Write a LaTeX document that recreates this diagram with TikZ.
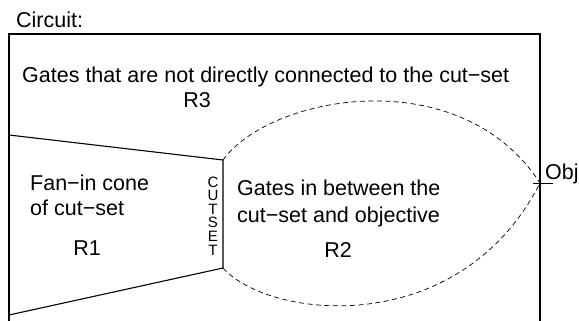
\documentclass[tikz,border=0pt]{standalone}
\usepackage{fontspec}
\setmainfont{Liberation Sans}
\begin{document}
\begin{tikzpicture}[x=1pt,y=1pt,
  lbl/.style={anchor=base west,inner sep=0pt,font=\fontsize{21.5}{25}\selectfont},
  clbl/.style={anchor=base,inner sep=0pt,font=\fontsize{21.5}{25}\selectfont},
  cutl/.style={anchor=base,inner sep=0pt,text height=10pt,text depth=0pt,font=\fontsize{15}{15}\selectfont},
  frame/.style={line width=1.6pt},
  region/.style={line width=1.1pt},
  lens/.style={dashed,line width=0.7pt,dash pattern=on 5pt off 3.5pt}]
\useasboundingbox (0,0) rectangle (579,-321);
\begin{scope}
\clip (0,0) rectangle (579,-321);
% frame (open at the bottom)
\coordinate (fbl) at (9,-330);
\coordinate (ftl) at (9,-34);
\coordinate (ftr) at (540,-34);
\coordinate (fbr) at (540,-330);
\draw[frame] (fbl) -- (ftl) -- (ftr) -- (fbr);
% fan-in cone
\coordinate (r1tl) at (9,-135);
\coordinate (cut1) at (223,-160);
\coordinate (cut2) at (223,-268);
\coordinate (r1bl) at (9,-315);
\draw[region] (r1tl) -- (cut1) -- (cut2) -- (r1bl);
% objective
\coordinate (obj) at (540,-183);
\coordinate (tickl) at (533,-183);
\coordinate (tickr) at (553,-183);
\draw[line width=0.8pt] (tickl) -- (tickr);
% lens R2
\draw[lens] (cut1) .. controls (270,-95) and (460,-60) .. (obj);
\draw[lens] (cut2) .. controls (270,-320) and (460,-340) .. (obj);
\end{scope}
% labels
\node[lbl] (circ) at (16,-28) {Circuit:};
\node[lbl] (g3) at (22,-83) {Gates that are not directly connected to the cut−set};
\node[clbl] (r3) at (197,-107) {R3};
\node[lbl] (f1) at (30,-190) {Fan−in cone};
\node[lbl] (f2) at (30,-215) {of cut−set};
\node[clbl] (r1) at (87,-255) {R1};
\node[lbl] (g2a) at (237,-195) {Gates in between the};
\node[lbl] (g2b) at (237,-222) {cut−set and objective};
\node[clbl] (r2) at (338,-257) {R2};
\node[lbl] (objl) at (545,-179) {Obj};
% vertical CUTSET label
\node[cutl] (cs1) at (213,-187) {C};
\node[cutl] (cs2) at (213,-200.6) {U};
\node[cutl] (cs3) at (213,-214.2) {T};
\node[cutl] (cs4) at (213,-227.8) {S};
\node[cutl] (cs5) at (213,-241.4) {E};
\node[cutl] (cs6) at (213,-255) {T};
\end{tikzpicture}
\end{document}
